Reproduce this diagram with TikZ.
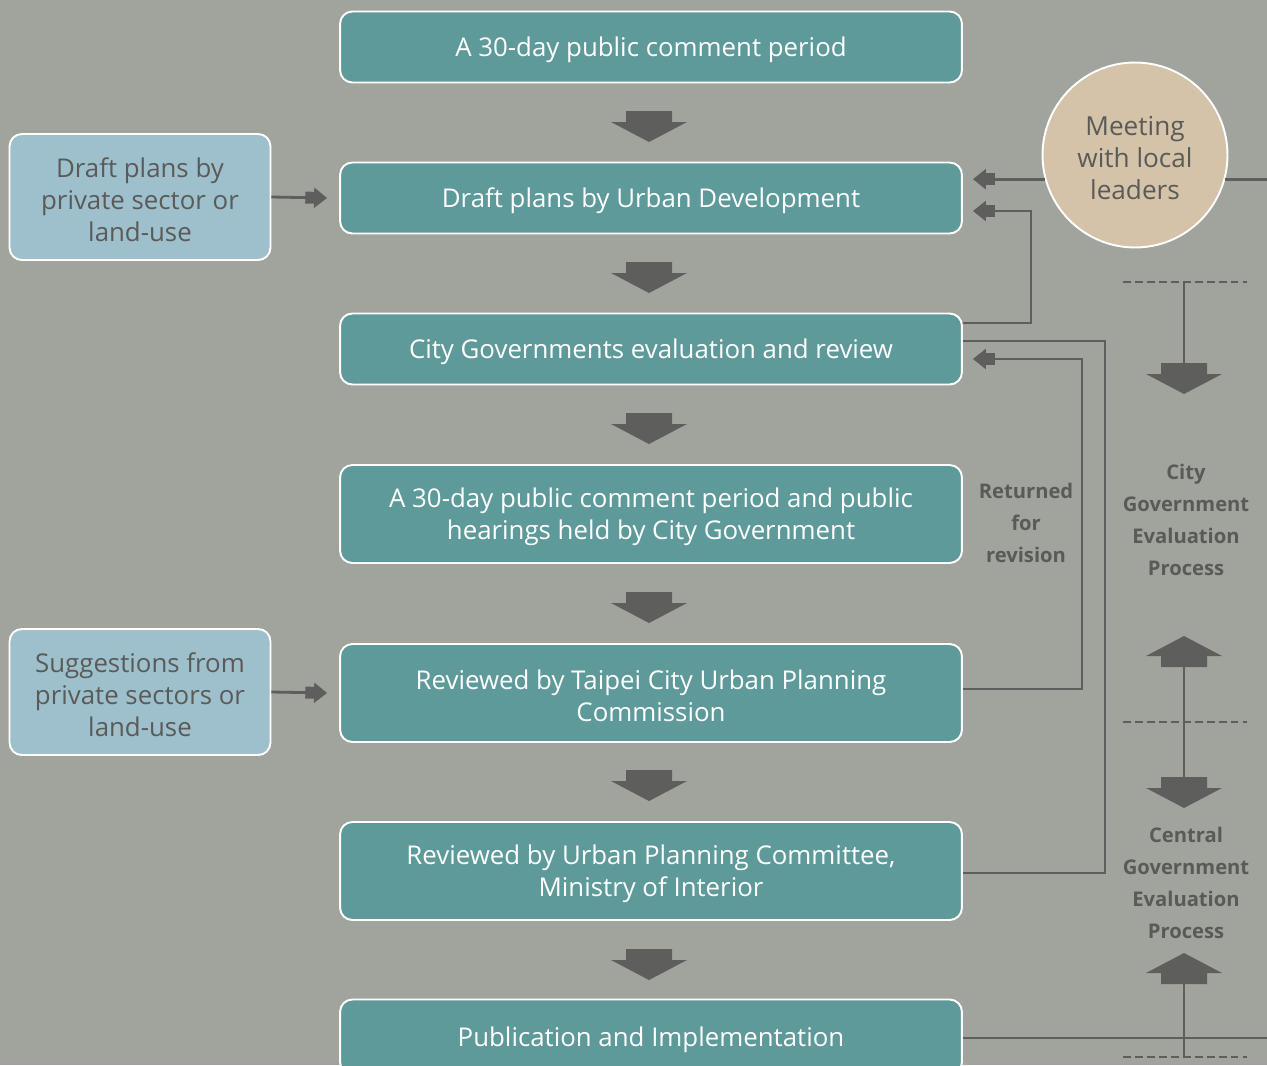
\documentclass[tikz,border=0pt]{standalone}
\usepackage{fontspec}
\setmainfont{Open Sans}
\usetikzlibrary{arrows.meta}
\definecolor{bggrey}{HTML}{A0A49D}
\definecolor{stepteal}{HTML}{5F9A9B}
\definecolor{sideblue}{HTML}{9EBFCC}
\definecolor{meettan}{HTML}{D4C3A9}
\definecolor{darkline}{HTML}{5E5F5C}
\definecolor{labelgrey}{HTML}{5A5B58}
\newcommand{\topstrut}{\rule{0pt}{14.6pt}}
\tikzset{
  stepbox/.style={draw=white, line width=1.1pt, fill=stepteal, rounded corners=7pt,
    minimum width=12.44cm, minimum height=1.42cm, text=white, align=center,
    font=\fontsize{14.7}{18.2}\selectfont, inner sep=0pt},
  tallbox/.style={stepbox, minimum height=1.96cm},
  sidebox/.style={draw=white, line width=1.1pt, fill=sideblue, rounded corners=7pt,
    minimum width=5.22cm, minimum height=2.52cm, text=labelgrey, align=center,
    font=\fontsize{14.7}{18.2}\selectfont, inner sep=0pt},
  meetcircle/.style={circle, draw=white, line width=1.1pt, fill=meettan, minimum size=3.7cm,
    text=labelgrey, align=center, font=\fontsize{14.9}{18.2}\selectfont, inner sep=0pt},
  sidelabel/.style={text=labelgrey, align=center, font=\bfseries\fontsize{11.5}{18.2}\selectfont},
  link/.style={draw=darkline, line width=1.6pt},
  linktip/.style={link, -{Rectangle[length=5pt,width=6.8pt,sep=0pt]Triangle[length=7.4pt,width=11.3pt]}},
  dashline/.style={draw=darkline, line width=1.3pt, dash pattern=on 4.5pt off 2.3pt},
  blockdown/.pic={\fill[darkline] (-23,0) -- (23,0) -- (23,11) -- (38,11) -- (0,31)
    -- (-38,11) -- (-23,11) -- cycle;},
  blockup/.pic={\fill[darkline] (-23,31) -- (23,31) -- (23,20) -- (38,20) -- (0,0)
    -- (-38,20) -- (-23,20) -- cycle;}
}
\begin{document}
\begin{tikzpicture}[x=0.02cm, y=-0.02cm]
  \useasboundingbox (0,0) rectangle (1267,1065);
  \clip (0,0) rectangle (1267,1065);
  \fill[bggrey] (0,0) rectangle (1267,1065);
  % main steps
  \node[stepbox] (pub1) at (651,47) {\topstrut A 30-day public comment period};
  \node[stepbox] (draft) at (651,198) {\topstrut Draft plans by Urban Development};
  \node[stepbox] (review) at (651,349) {\topstrut City Governments evaluation and review};
  \node[tallbox] (hear) at (651,514) {\topstrut A 30-day public comment period and public\\hearings held by City Government};
  \node[tallbox] (tcupc) at (651,693) {\topstrut Reviewed by Taipei City Urban Planning\\Commission};
  \node[tallbox] (moi) at (651,871) {\topstrut Reviewed by Urban Planning Committee,\\Ministry of Interior};
  \node[stepbox, minimum height=1.5cm] (impl) at (651,1037) {\topstrut Publication and Implementation};
  % block arrows between steps
  \foreach \y in {111,262,413,592,770,949}
    \pic at (649,\y) {blockdown};
  % side inputs
  \node[sidebox] (private) at (140,197) {\topstrut Draft plans by\\private sector or\\land-use};
  \node[sidebox] (suggest) at (140,692) {\topstrut Suggestions from\\private sectors or\\land-use};
  \node[meetcircle] (meet) at (1135,155) {\topstrut Meeting\\with local\\leaders};
  \draw[linktip] (private.east) -- ([xshift=-0.24cm]draft.west);
  \draw[linktip] (suggest.east) -- ([xshift=-0.24cm]tcupc.west);
  \draw[linktip] (meet.195.7) -- ([xshift=0.2cm]draft.east |- meet.195.7);
  \coordinate (edgetop) at (1267,180);
  \draw[link] (meet.-15.7) -- (meet.-15.7 -| edgetop);
  % returns
  \draw[linktip] ([yshift=0.52cm]review.east) -- ++(68,0) |- ([xshift=0.2cm,yshift=-0.26cm]draft.east);
  \draw[link] ([yshift=0.16cm]review.east) -- ++(142,0) |- ([yshift=-0.04cm]moi.east);
  \draw[linktip] ([yshift=0.08cm]tcupc.east) -- ++(119,0) |- ([xshift=0.2cm,yshift=-0.2cm]review.east);
  \node[sidelabel] (returned) at (1026,523) {Returned\\for\\revision};
  \coordinate (edgebot) at (1267,1038);
  \draw[link] (impl.east |- edgebot) -- (edgebot);
  % evaluation stages
  \coordinate (div1) at (1184,282);
  \coordinate (div2) at (1184,722);
  \coordinate (div3) at (1184,1057);
  \foreach \d in {div1,div2,div3}
    \draw[dashline] ([xshift=-1.22cm]\d) -- ([xshift=1.26cm]\d);
  \draw[link] (div1) -- (1184,365);
  \pic at (1184,363) {blockdown};
  \node[sidelabel] (citygov) at (1186,520) {City\\Government\\Evaluation\\Process};
  \pic at (1184,636) {blockup};
  \draw[link] (1184,666) -- (1184,779);
  \pic at (1184,777) {blockdown};
  \node[sidelabel] (centralgov) at (1186,883) {Central\\Government\\Evaluation\\Process};
  \pic at (1184,953) {blockup};
  \draw[link] (1184,983) -- (div3);
\end{tikzpicture}
\end{document}
